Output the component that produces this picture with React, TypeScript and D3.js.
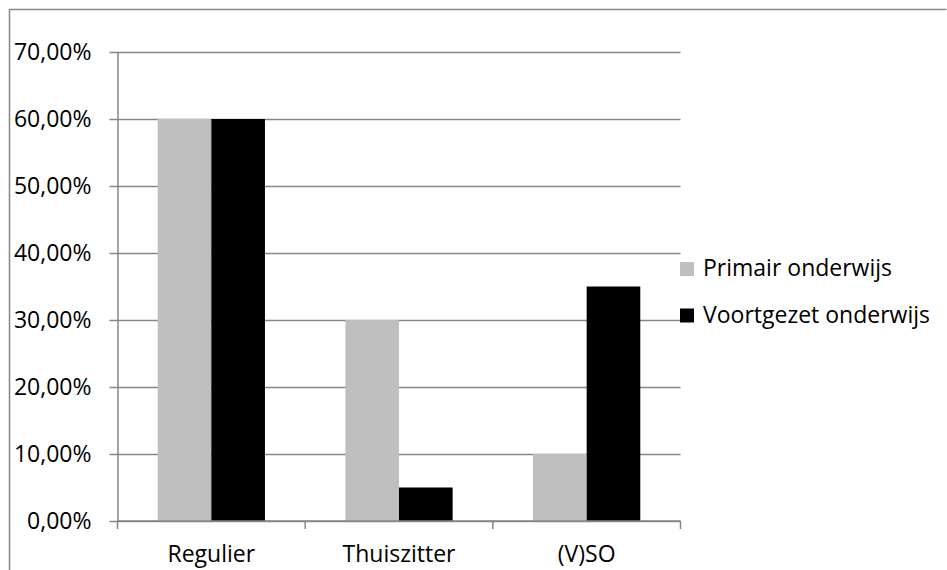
import React, { useEffect, useRef } from 'react';
import * as d3 from 'd3';

const categories = ['Regulier', 'Thuiszitter', '(V)SO'];
const seriesNames = ['Primair onderwijs', 'Voortgezet onderwijs'];
const primair = [0.6, 0.3, 0.1];
const voortgezet = [0.6, 0.05, 0.35];
const yTicks = [0, 0.1, 0.2, 0.3, 0.4, 0.5, 0.6, 0.7];

const colors = ['#bfbfbf', '#000000'];
const gridColor = '#868686';
const font = "'Open Sans', sans-serif";
const fontSize = 23;

const App: React.FC = () => {
  const svgRef = useRef<SVGSVGElement>(null);

  useEffect(() => {
    if (!svgRef.current) return;
    const svg = d3.select(svgRef.current);
    svg.selectAll('*').remove();

    const W = 947;
    const H = 570;
    const plot = { left: 117.5, right: 680.5, top: 52, bottom: 521 };

    // outer chart frame
    svg.append('path')
      .attr('d', `M9.5,${H + 5} V9.5 H946.5`)
      .attr('fill', 'none')
      .attr('stroke', gridColor)
      .attr('stroke-width', 1.5);

    const x = d3.scaleBand<string>()
      .domain(categories)
      .range([plot.left, plot.right])
      .paddingInner(0)
      .paddingOuter(0);

    const y = d3.scaleLinear()
      .domain([0, 0.7])
      .range([plot.bottom, plot.top]);

    const fmt = (v: number) => (v * 100).toFixed(2).replace('.', ',') + '%';

    // gridlines + y ticks
    const yAxis = d3.axisLeft(y)
      .tickValues(yTicks)
      .tickSize(-(plot.right - plot.left))
      .tickSizeOuter(0)
      .tickPadding(26)
      .tickFormat(d => fmt(d as number));

    const yg = svg.append('g')
      .attr('transform', `translate(${plot.left},0)`)
      .call(yAxis);
    yg.select('.domain').attr('stroke', gridColor).attr('stroke-width', 1.5);
    yg.selectAll('.tick line')
      .attr('stroke', gridColor)
      .attr('stroke-width', 1.5)
      .attr('x1', -8);
    yg.selectAll('.tick text')
      .attr('font-family', font)
      .attr('font-size', fontSize)
      .attr('fill', '#000');

    // bars
    const groupWidth = x.bandwidth() / 1.75;
    const inner = d3.scaleBand<number>()
      .domain([0, 1])
      .range([(x.bandwidth() - groupWidth) / 2, (x.bandwidth() + groupWidth) / 2]);

    [primair, voortgezet].forEach((values, si) => {
      svg.append('g')
        .selectAll('rect')
        .data(values)
        .enter()
        .append('rect')
        .attr('x', (d, i) => (x(categories[i]) as number) + (inner(si) as number))
        .attr('y', d => y(d))
        .attr('width', inner.bandwidth())
        .attr('height', d => plot.bottom - y(d))
        .attr('fill', colors[si]);
    });

    // x axis
    const xg = svg.append('g')
      .attr('transform', `translate(0,${plot.bottom})`);
    xg.append('line')
      .attr('x1', plot.left)
      .attr('x2', plot.right)
      .attr('stroke', gridColor)
      .attr('stroke-width', 1.5);
    const bounds = [...categories.map(c => x(c) as number), plot.right];
    xg.selectAll('line.tick')
      .data(bounds)
      .enter()
      .append('line')
      .attr('class', 'tick')
      .attr('x1', d => d)
      .attr('x2', d => d)
      .attr('y1', 0)
      .attr('y2', 8)
      .attr('stroke', gridColor)
      .attr('stroke-width', 1.5);
    xg.selectAll('text')
      .data(categories)
      .enter()
      .append('text')
      .attr('x', d => (x(d) as number) + x.bandwidth() / 2)
      .attr('y', 41)
      .attr('text-anchor', 'middle')
      .attr('font-family', font)
      .attr('font-size', fontSize)
      .attr('fill', '#000')
      .text(d => d);

    // legend
    const legend = svg.append('g').attr('transform', 'translate(680,262)');
    seriesNames.forEach((name, i) => {
      const row = legend.append('g').attr('transform', `translate(0,${i * 46.5})`);
      row.append('rect')
        .attr('width', 14)
        .attr('height', 14)
        .attr('fill', colors[i]);
      row.append('text')
        .attr('x', 23)
        .attr('y', 14)
        .attr('font-family', font)
        .attr('font-size', fontSize)
        .attr('fill', '#000')
        .text(name);
    });

    svg.attr('width', W).attr('height', H);
  }, []);

  return (
    <svg
      ref={svgRef}
      width={947}
      height={570}
      style={{ position: 'absolute', left: 0, top: 0, background: '#fff' }}
    />
  );
};

export default App;
